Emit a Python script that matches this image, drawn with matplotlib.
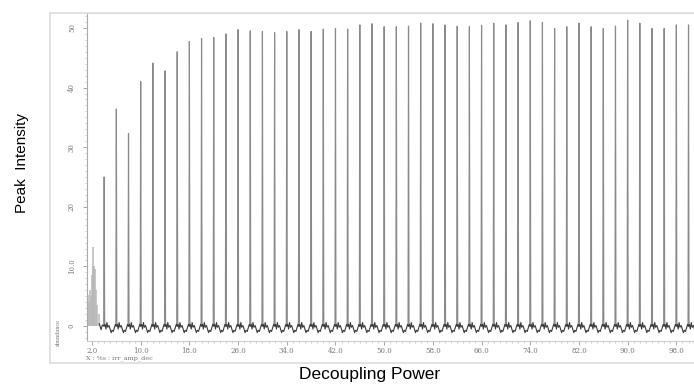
import matplotlib.pyplot as plt
from matplotlib.lines import Line2D
from matplotlib.ticker import MultipleLocator

# peak positions (decoupling power) and peak tops
peak_x = list(range(4, 101, 2))
peak_h = [25.0, 36.4, 32.3, 41.0, 44.1, 42.8, 46.0, 47.7, 48.2, 48.4,
          49.0, 49.7, 49.5, 49.4, 49.2, 49.4, 49.7, 49.4, 49.8, 49.9,
          49.8, 50.5, 50.7, 50.2, 50.2, 50.3, 50.8, 50.7, 50.5, 50.3,
          50.2, 50.4, 50.8, 50.5, 50.9, 51.2, 50.9, 49.9, 50.2, 50.8,
          50.2, 49.9, 50.3, 51.3, 50.8, 49.9, 49.9, 50.5, 50.5]

# low, noisy cluster at the very start of the sweep
cluster_x = [1.3, 1.5, 1.7, 1.9, 2.0, 2.1, 2.2, 2.35, 2.5, 2.7, 2.9, 3.1]
cluster_h = [5.2, 4.0, 6.0, 5.0, 8.5, 10.0, 13.3, 10.0, 9.5, 6.0, 3.5, 2.0]

# baseline wiggle between two peaks (offset after a peak, value)
wiggle_dx = [0.15, 0.3, 0.45, 0.6, 0.8, 1.0, 1.15, 1.3, 1.5, 1.7, 1.85]
wiggle_y = [0.3, -0.5, 0.6, -0.2, 0.1, -0.6, -1.1, -0.7, -0.9, -0.2, 0.3]

xticks = [2, 10, 18, 26, 34, 42, 50, 58, 66, 74, 82, 90, 98]
yticks = [0, 10, 20, 30, 40, 50]
ylabels = ["0", "10.0", "20", "30", "40", "50"]

# peaks as thin grey spikes, baseline as a darker trace
peak_tx, peak_ty = [], []
for px, ph in zip(peak_x, peak_h):
    peak_tx += [px - 0.08, px, px + 0.08, None]
    peak_ty += [0.0, ph, 0.0, None]

base_tx, base_ty = [3.2, 3.5, 3.7], [0.4, -0.6, 0.2]
for px in peak_x:
    base_tx.append(px)
    base_ty.append(0.0)
    for dx, dy in zip(wiggle_dx, wiggle_y):
        base_tx.append(px + dx)
        base_ty.append(dy)

fig = plt.figure(figsize=(6.94, 3.85), dpi=100)
ax = fig.add_axes([87 / 694, 1 - 341 / 385, 1 - 87 / 694, (341 - 13) / 385])

ax.vlines(cluster_x, 0, cluster_h, color="#b8b8b8", lw=1.1)
ax.plot(peak_tx, peak_ty, color="#8a8a8a", lw=0.85)
ax.plot(base_tx, base_ty, color="#3a3a3a", lw=0.8)

ax.set_xlim(1.18, 100.9)
ax.set_ylim(-2.5, 52.5)

ax.set_xticks(xticks)
ax.set_xticklabels([f"{t:.1f}" for t in xticks], family="DejaVu Serif",
                   fontsize=5, color="#777777")
ax.xaxis.set_minor_locator(MultipleLocator(1))
ax.set_yticks(yticks)
ax.set_yticklabels(ylabels, family="DejaVu Serif", fontsize=5,
                   color="#777777", rotation=90, va="center")
ax.yaxis.set_minor_locator(MultipleLocator(1))
ax.tick_params(which="major", length=3, width=0.6, color="#999999", pad=1)
ax.tick_params(axis="y", which="major", pad=5)
ax.tick_params(which="minor", length=1.5, width=0.5, color="#bbbbbb")

ax.spines["right"].set_visible(False)
ax.spines["top"].set_color("#dddddd")
ax.spines["left"].set_color("#aaaaaa")
ax.spines["bottom"].set_color("#cccccc")
ax.spines["bottom"].set_linestyle((0, (1, 1)))
for s in ax.spines.values():
    s.set_linewidth(0.8)

# outer light frame of the instrument plot
fig.add_artist(Line2D([50 / 694, 50 / 694], [1 - 362 / 385, 1 - 13 / 385],
                      color="#dddddd", lw=1.2))
fig.add_artist(Line2D([50 / 694, 1], [1 - 363 / 385, 1 - 363 / 385],
                      color="#dddddd", lw=1.2))
fig.add_artist(Line2D([50 / 694, 1], [1 - 13 / 385, 1 - 13 / 385],
                      color="#dddddd", lw=1.2))

fig.text(58 / 694, 1 - 332 / 385, "abundance", rotation=90, fontsize=3.5,
         family="DejaVu Serif", color="#777777", ha="center", va="center")
fig.text(86 / 694, 1 - 358.5 / 385, "X : %s : irr_amp_dec", fontsize=4.6,
         family="DejaVu Serif", color="#777777", ha="left", va="center")

fig.text(22 / 694, 1 - 163 / 385, "Peak  Intensity", rotation=90,
         fontsize=11, family="Liberation Sans", ha="center", va="center")
fig.text(370 / 694, 1 - 374 / 385, "Decoupling Power", fontsize=12.5,
         family="Liberation Sans", ha="center", va="center")

fig.savefig("out.png", dpi=100)
